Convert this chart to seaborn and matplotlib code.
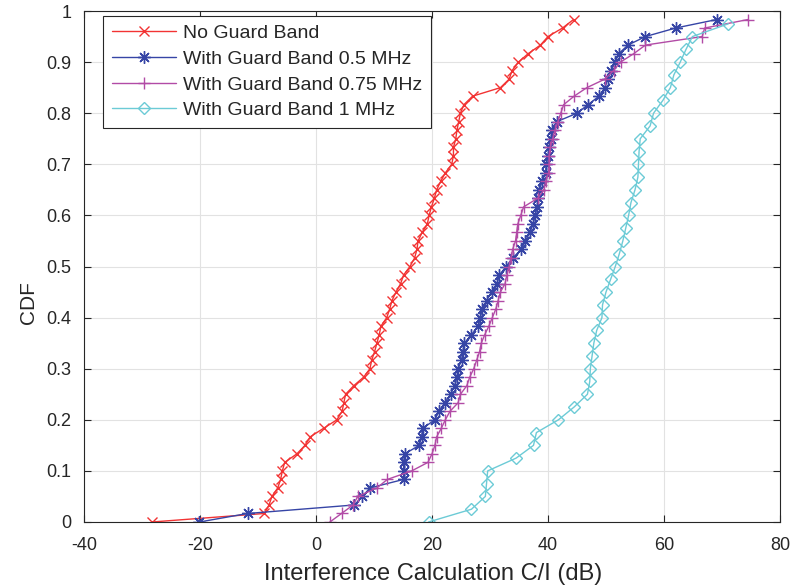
import numpy as np
import pandas as pd
import matplotlib
matplotlib.use("Agg")
import matplotlib.pyplot as plt
import seaborn as sns

# Empirical CDF samples: C/I values (dB), sorted ascending
no_guard = [-28.3, -8.9, -8.1, -7.6, -6.6, -6.1, -5.8, -5.4, -3.3, -1.9,
            -1.0, 1.3, 3.6, 4.5, 4.8, 5.1, 6.5, 8.2, 9.3, 9.6,
            10.1, 10.5, 10.9, 11.2, 12.2, 12.7, 13.1, 13.8, 14.6, 15.1,
            16.2, 17.0, 17.4, 17.6, 18.3, 19.2, 19.5, 19.9, 20.4, 20.8,
            21.5, 22.3, 23.4, 23.7, 23.7, 24.1, 24.3, 24.6, 24.9, 25.5,
            27.0, 31.8, 33.3, 33.8, 34.9, 36.6, 38.7, 40.0, 42.5, 44.4]
guard_05 = [-20.1, -11.8, 6.6, 8.0, 9.3, 15.1, 15.1, 15.1, 15.3, 17.8,
            18.2, 18.4, 20.5, 21.2, 22.2, 23.2, 23.9, 24.3, 24.5, 25.1,
            25.3, 25.6, 26.8, 28.0, 28.3, 28.7, 29.4, 30.3, 31.2, 31.6,
            32.8, 33.9, 35.4, 36.1, 36.9, 37.4, 37.8, 38.1, 38.3, 38.5,
            39.0, 39.6, 39.7, 40.0, 40.2, 40.5, 40.7, 41.5, 45.0, 46.9,
            48.8, 49.8, 50.3, 50.9, 51.6, 52.2, 53.8, 56.8, 62.0, 69.1]
guard_075 = [2.4, 4.4, 6.4, 7.2, 10.5, 12.3, 16.5, 19.3, 20.0, 20.5,
             20.8, 21.6, 22.3, 23.1, 24.5, 24.9, 26.0, 26.5, 27.2, 27.7,
             28.2, 28.5, 29.1, 29.8, 30.4, 31.0, 31.4, 31.8, 32.6, 32.9,
             33.3, 33.6, 33.9, 34.4, 34.6, 34.8, 35.3, 35.8, 38.2, 39.3,
             39.6, 40.1, 40.2, 40.2, 40.4, 40.8, 41.2, 41.7, 42.2, 42.7,
             44.5, 46.7, 49.8, 51.3, 52.5, 54.8, 56.8, 66.6, 67.0, 74.5]
guard_1 = [19.4, 26.8, 29.2, 29.4, 29.6, 34.5, 37.5, 38.0, 41.8, 44.5,
           46.8, 47.2, 47.3, 47.6, 47.9, 48.4, 49.3, 49.4, 50.0, 50.8,
           51.6, 52.3, 52.9, 53.4, 53.9, 54.3, 55.0, 55.5, 55.6, 55.7,
           55.9, 57.6, 58.2, 59.8, 61.1, 61.7, 62.8, 63.8, 64.9, 71.1]

labels = ["No Guard Band", "With Guard Band 0.5 MHz",
          "With Guard Band 0.75 MHz", "With Guard Band 1 MHz"]
x_ticks = [-40, -20, 0, 20, 40, 60, 80]
y_ticks = [0, 0.1, 0.2, 0.3, 0.4, 0.5, 0.6, 0.7, 0.8, 0.9, 1]
y_ticklabels = ["0", "0.1", "0.2", "0.3", "0.4", "0.5", "0.6", "0.7", "0.8", "0.9", "1"]

colors = ["#f23333", "#3645a6", "#b24ba6", "#6ccbd6"]
markers = ["x", (8, 2, 0), "+", "D"]
msizes = [7.5, 9, 9, 6.5]

sns.set_theme(style="white")
plt.rcParams["font.family"] = ["Liberation Sans", "DejaVu Sans"]

fig = plt.figure(figsize=(7.93, 5.88), dpi=100)
ax = fig.add_axes([84 / 793, 66 / 588, 696 / 793, 511 / 588])

axis_col = "#262626"
for vals, lab, col, mk, ms in zip([no_guard, guard_05, guard_075, guard_1],
                                  labels, colors, markers, msizes):
    n = len(vals)
    df = pd.DataFrame({"ci": vals, "cdf": np.arange(n) / n})
    sns.lineplot(data=df, x="ci", y="cdf", sort=False, estimator=None,
                 color=col, lw=1.0, marker=mk, ms=ms, mec=col, mew=1.0,
                 mfc="none", label=lab, ax=ax)

ax.set_xlim(-40, 80)
ax.set_ylim(0, 1)
ax.set_xticks(x_ticks)
ax.set_xticklabels([str(t) for t in x_ticks])
ax.set_yticks(y_ticks)
ax.set_yticklabels(y_ticklabels)
ax.grid(True, color="#e2e2e2", linewidth=0.8)
ax.set_axisbelow(True)
for s in ax.spines.values():
    s.set_color(axis_col)
    s.set_linewidth(0.8)
ax.tick_params(direction="in", length=5, width=0.8, colors=axis_col,
               labelsize=13, top=True, right=True, bottom=True, left=True)
ax.tick_params(axis="x", pad=11)
ax.tick_params(axis="y", pad=9)
ax.set_xlabel("Interference Calculation C/I (dB)", fontsize=17, color=axis_col)
ax.set_ylabel("CDF", fontsize=15, color=axis_col)
ax.xaxis.set_label_coords(0.501, -0.08)
ax.yaxis.set_label_coords(-0.066, 0.43)

leg = ax.legend(loc="upper left", bbox_to_anchor=(0.027, 0.991),
                borderaxespad=0, fontsize=14, frameon=True, fancybox=False,
                framealpha=1, edgecolor=axis_col, handlelength=3.3,
                handletextpad=0.35, labelspacing=0.42, borderpad=0.45)
leg.get_frame().set_linewidth(0.8)
for t in leg.get_texts():
    t.set_color(axis_col)

fig.savefig("out.png", dpi=100)
